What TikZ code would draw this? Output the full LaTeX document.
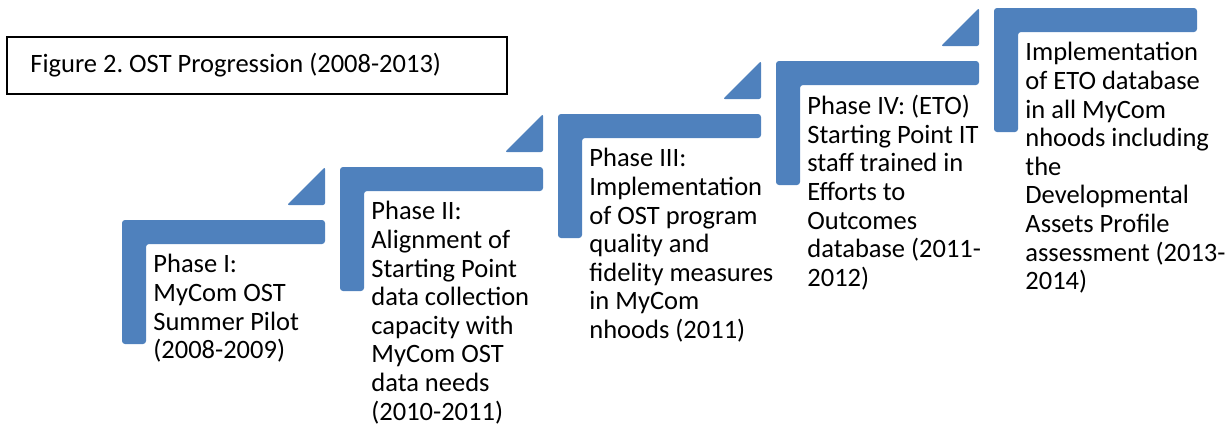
\documentclass[tikz,border=0pt]{standalone}
\usepackage{fontspec}
\setmainfont{Carlito}
\definecolor{stepblue}{HTML}{4F81BD}

\begin{document}
\frenchspacing
\begin{tikzpicture}[x=0.5pt,y=-0.5pt,
  stepbar/.style={fill=stepblue,rounded corners=1.5pt},
  steptip/.style={fill=stepblue,rounded corners=1pt},
  steptext/.style={anchor=north west,inner sep=0pt,align=left,
    font=\fontsize{13.25}{14.3}\selectfont}]
\useasboundingbox (0,0) rectangle (1226,430);
\draw[line width=0.9pt] (7,37) rectangle (507,94);
\node[anchor=base west,inner sep=0pt,font=\fontsize{13.25}{14.3}\selectfont]
  (title) at (30,72) {Figure 2. OST Progression (2008-2013)};
\fill[stepbar] (122,220)--++(203,0)--++(0,24)--++(-179,0)--++(0,100)--++(-24,0)--cycle;
\fill[stepbar] (340,167)--++(203,0)--++(0,24)--++(-179,0)--++(0,100)--++(-24,0)--cycle;
\fill[stepbar] (558,114)--++(203,0)--++(0,24)--++(-179,0)--++(0,100)--++(-24,0)--cycle;
\fill[stepbar] (776,61)--++(203,0)--++(0,24)--++(-179,0)--++(0,100)--++(-24,0)--cycle;
\fill[stepbar] (994,8)--++(203,0)--++(0,24)--++(-179,0)--++(0,100)--++(-24,0)--cycle;
\fill[steptip] (287,205)--(325,205)--(325,167)--cycle;
\fill[steptip] (505,152)--(543,152)--(543,114)--cycle;
\fill[steptip] (723,99)--(761,99)--(761,61)--cycle;
\fill[steptip] (941,46)--(979,46)--(979,8)--cycle;
\node[steptext] (phaseone) at (153,254) {Phase I:\\MyCom OST\\Summer Pilot\\(2008-2009)};
\node[steptext] (phasetwo) at (371,201) {Phase II:\\Alignment of\\Starting Point\\data collection\\capacity with\\MyCom OST\\data needs\\(2010-2011)};
\node[steptext] (phasethree) at (589,148) {Phase III:\\Implementation\\of OST program\\quality and\\fidelity measures\\in MyCom\\nhoods (2011)};
\node[steptext] (phasefour) at (807,95) {Phase IV: (ETO)\\Starting Point IT\\staff trained in\\Efforts to\\Outcomes\\database (2011-\\2012)};
\node[steptext] (phasefive) at (1025,42) {Implementation\\of ETO database\\in all MyCom\\nhoods including\\the\\Developmental\\Assets Profile\\assessment (2013-\\2014)};
\end{tikzpicture}
\end{document}
